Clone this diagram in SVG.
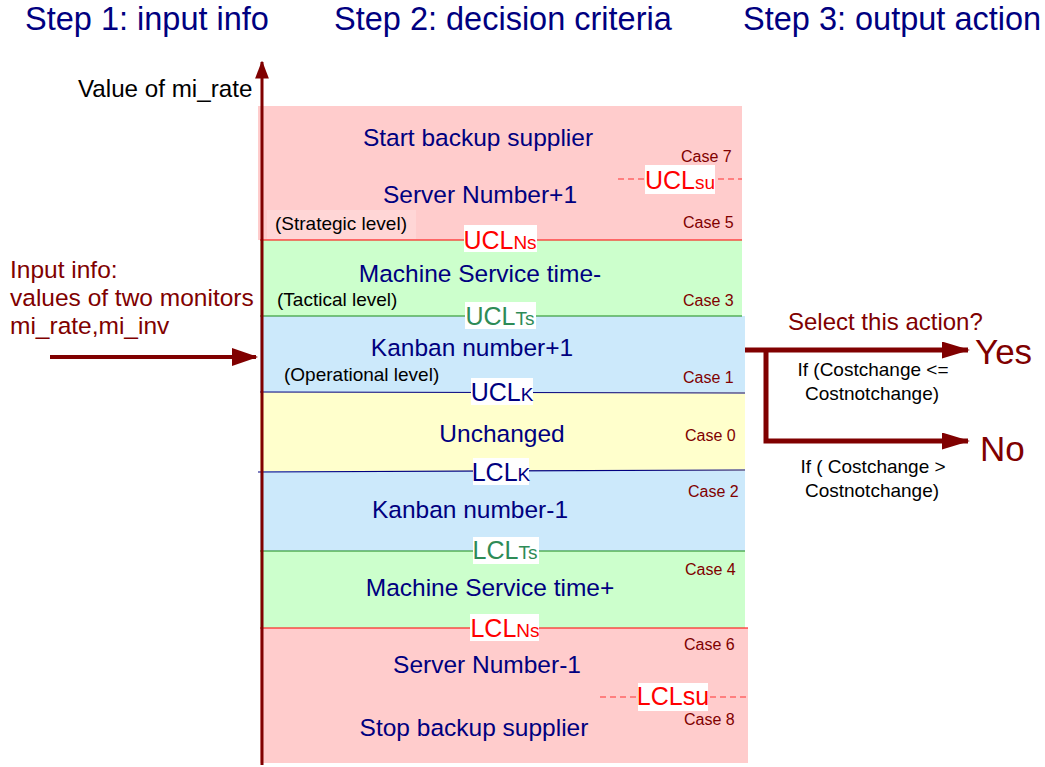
<svg xmlns="http://www.w3.org/2000/svg" width="1045" height="767" viewBox="0 0 1045 767">
<defs>
<marker id="ah" markerWidth="6.5" markerHeight="4.5" refX="6" refY="2.25" orient="auto" markerUnits="strokeWidth"><path d="M0,0 L6.5,2.25 L0,4.5 z" fill="#800000"/></marker>
<marker id="ahb" markerWidth="6" markerHeight="4.6" refX="5.5" refY="2.3" orient="auto" markerUnits="strokeWidth"><path d="M0,0 L6,2.3 L0,4.6 z" fill="#800000"/></marker>
<marker id="ahr" markerWidth="5.6" markerHeight="3.4" refX="5.2" refY="1.7" orient="auto" markerUnits="strokeWidth"><path d="M0,0 L5.6,1.7 L0,3.4 z" fill="#800000"/></marker>
<style>
text{font-family:"Liberation Sans",Arial,sans-serif}
.step{font-size:32.5px;fill:#000080}
.act{font-size:24.5px;fill:#000080;text-anchor:middle}
.case{font-size:16px;fill:#800000}
.lvl{font-size:19px;fill:#000}
.lim{font-size:25px;text-anchor:middle}
.sub{font-size:19px}
.lbg{fill:#fff}
.red{fill:#ff0000}
.grn{fill:#2e8b57}
.nav{fill:#000080}
.dr{fill:#800000}
.cond{font-size:19px;fill:#000;text-anchor:middle}
</style>
</defs>
<rect width="1045" height="767" fill="#fff"/>
<g id="headers">
<text class="step" x="25" y="30">Step 1: input info</text>
<text class="step" x="334" y="30">Step 2: decision criteria</text>
<text class="step" x="743" y="30">Step 3: output action</text>
</g>
<g id="bands">
<rect x="258" y="106" width="484" height="134" fill="#ffcccc"/>
<rect x="267" y="210" width="149" height="29" fill="#ffd6d6"/>
<rect x="260" y="240" width="482" height="76" fill="#ccffcc"/>
<rect x="260" y="316" width="485" height="76" fill="#cce9fb"/>
<rect x="260" y="392" width="485" height="79" fill="#ffffcc"/>
<rect x="260" y="471" width="485" height="80" fill="#cce9fb"/>
<rect x="260" y="551" width="485" height="77" fill="#ccffcc"/>
<rect x="260" y="628" width="488" height="135" fill="#ffcccc"/>
</g>
<g id="connectors">
<line x1="260" y1="240" x2="742" y2="240" stroke="#ff0000" stroke-width="1.2"/>
<line x1="260" y1="316" x2="742" y2="316" stroke="#1a8a1a" stroke-width="1"/>
<line x1="260" y1="392" x2="745" y2="393" stroke="#000080" stroke-width="1.2"/>
<line x1="258" y1="472" x2="745" y2="470" stroke="#000080" stroke-width="1.2"/>
<line x1="260" y1="551" x2="745" y2="551" stroke="#1a8a1a" stroke-width="1"/>
<line x1="260" y1="628" x2="748" y2="628" stroke="#ff0000" stroke-width="1.2"/>
<line x1="618" y1="179" x2="742" y2="179" stroke="#ff3333" stroke-width="1" stroke-dasharray="6,4"/>
<line x1="600" y1="697" x2="748" y2="697" stroke="#ff3333" stroke-width="1" stroke-dasharray="6,4"/>
<line x1="262" y1="765" x2="262" y2="62" stroke="#800000" stroke-width="3" marker-end="url(#ahb)"/>
<line x1="50" y1="357" x2="256" y2="357" stroke="#800000" stroke-width="4" marker-end="url(#ah)"/>
<line x1="745" y1="350" x2="968" y2="350" stroke="#800000" stroke-width="5" marker-end="url(#ahr)"/>
<polyline points="766,350 766,441 968,441" fill="none" stroke="#800000" stroke-width="5" marker-end="url(#ahr)"/>
</g>
<g id="axis-label"><text x="78" y="97" font-size="24.2" fill="#000">Value of mi_rate</text></g>
<g id="input">
<text x="10" y="278" font-size="24.5" class="dr">Input info:</text>
<text x="10" y="306" font-size="24.5" class="dr">values of two monitors</text>
<text x="10" y="334" font-size="24.5" class="dr">mi_rate,mi_inv</text>
</g>
<g id="case7">
<text class="act" x="478" y="146">Start backup supplier</text>
<text class="case" x="681" y="162">Case 7</text>
</g>
<g id="ucl-su">
<rect class="lbg" x="645" y="165" width="70" height="29"/>
<text class="lim red" x="680" y="189">UCL<tspan class="sub">su</tspan></text>
</g>
<g id="case5">
<text class="act" x="480" y="203">Server Number+1</text>
<text class="lvl" x="275" y="230">(Strategic level)</text>
<text class="case" x="683" y="228">Case 5</text>
</g>
<g id="ucl-ns">
<rect class="lbg" x="464" y="225" width="73" height="27"/>
<text class="lim red" x="500" y="249">UCL<tspan class="sub">Ns</tspan></text>
</g>
<g id="case3">
<text class="act" x="480" y="282">Machine Service time-</text>
<text class="lvl" x="277" y="306">(Tactical level)</text>
<text class="case" x="683" y="306">Case 3</text>
</g>
<g id="ucl-ts">
<rect class="lbg" x="465" y="302" width="71" height="27"/>
<text class="lim grn" x="500" y="325">UCL<tspan class="sub">Ts</tspan></text>
</g>
<g id="case1">
<text class="act" x="472" y="356">Kanban number+1</text>
<text class="lvl" x="284" y="381">(Operational level)</text>
<text class="case" x="683" y="383">Case 1</text>
</g>
<g id="ucl-k">
<rect class="lbg" x="471" y="378" width="62" height="27"/>
<text class="lim nav" x="502" y="401">UCL<tspan class="sub">K</tspan></text>
</g>
<g id="case0">
<text class="act" x="502" y="442">Unchanged</text>
<text class="case" x="685" y="441">Case 0</text>
</g>
<g id="lcl-k">
<rect class="lbg" x="473" y="458" width="56" height="27"/>
<text class="lim nav" x="501" y="481">LCL<tspan class="sub">K</tspan></text>
</g>
<g id="case2">
<text class="case" x="688" y="497">Case 2</text>
<text class="act" x="470" y="518">Kanban number-1</text>
</g>
<g id="lcl-ts">
<rect class="lbg" x="473" y="537" width="66" height="27"/>
<text class="lim grn" x="505" y="559">LCL<tspan class="sub">Ts</tspan></text>
</g>
<g id="case4">
<text class="case" x="685" y="575">Case 4</text>
<text class="act" x="490" y="596">Machine Service time+</text>
</g>
<g id="lcl-ns">
<rect class="lbg" x="470" y="614" width="69" height="27"/>
<text class="lim red" x="505" y="637">LCL<tspan class="sub">Ns</tspan></text>
</g>
<g id="case6">
<text class="case" x="684" y="650">Case 6</text>
<text class="act" x="487" y="673">Server Number-1</text>
</g>
<g id="lcl-su">
<rect class="lbg" x="638" y="683" width="70" height="28"/>
<text class="lim red" x="673" y="705">LCLsu</text>
</g>
<g id="case8">
<text class="case" x="684" y="725">Case 8</text>
<text class="act" x="474" y="736">Stop backup supplier</text>
</g>
<g id="decision">
<text x="788" y="330" font-size="24" class="dr">Select this action?</text>
</g>
<g id="yes">
<text x="975" y="364" font-size="35" class="dr">Yes</text>
<text class="cond" x="873" y="376">If (Costchange &lt;=</text>
<text class="cond" x="872" y="400">Costnotchange)</text>
</g>
<g id="no">
<text x="980" y="461" font-size="35" class="dr">No</text>
<text class="cond" x="873" y="473">If ( Costchange &gt;</text>
<text class="cond" x="872" y="497">Costnotchange)</text>
</g>
</svg>
